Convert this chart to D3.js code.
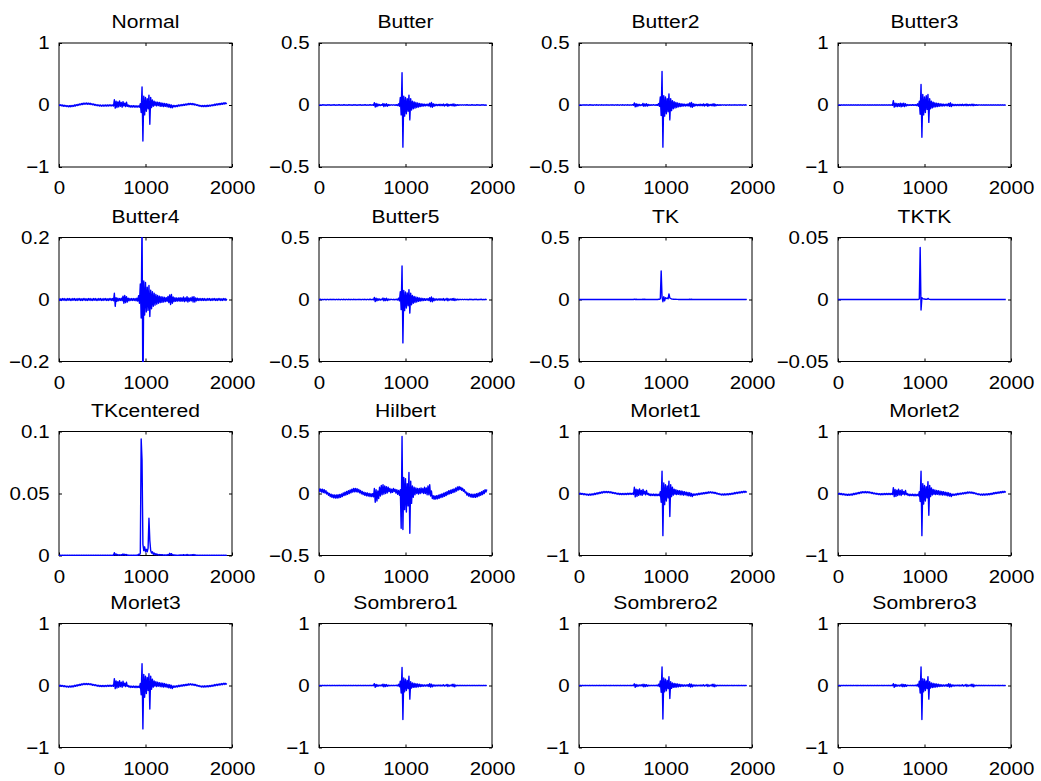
<!DOCTYPE html>
<html><head><meta charset="utf-8">
<script src="https://cdn.jsdelivr.net/npm/d3@7"></script>
<style>body{margin:0;background:#fff}svg{display:block}</style>
</head><body>
<svg id="c" width="1041" height="781"></svg>
<script>
// ---------- data ----------
const titles = ["Normal","Butter","Butter2","Butter3","Butter4","Butter5","TK","TKTK",
  "TKcentered","Hilbert","Morlet1","Morlet2","Morlet3","Sombrero1","Sombrero2","Sombrero3"];
const xTickValues = [0, 1000, 2000];
const yTickSets = [
  [-1,0,1],[-0.5,0,0.5],[-0.5,0,0.5],[-1,0,1],
  [-0.2,0,0.2],[-0.5,0,0.5],[-0.5,0,0.5],[-0.05,0,0.05],
  [0,0.05,0.1],[-0.5,0,0.5],[-1,0,1],[-1,0,1],
  [-1,0,1],[-1,0,1],[-1,0,1],[-1,0,1]];
const sampleStep = 10; // samples are read every 10 x-units, starting at 0

const normalSig = [
0.008,-0.01,0.004,-0.014,0.0,-0.02,-0.003,-0.022,-0.007,-0.026,
-0.011,-0.029,-0.01,-0.028,-0.008,-0.026,-0.006,-0.022,0.002,-0.016,
0.006,-0.01,0.012,-0.004,0.018,0.002,0.024,0.008,0.03,0.012,
0.031,0.013,0.032,0.012,0.03,0.012,0.028,0.008,0.022,0.002,
0.016,-0.003,0.01,-0.008,0.005,-0.013,0.002,-0.017,-0.001,-0.019,
-0.001,-0.019,0.0,-0.018,0.001,-0.017,0.002,-0.016,0.003,-0.015,
0.003,-0.015,0.002,-0.016,0.085,-0.05,0.06,-0.04,0.05,-0.03,
0.065,-0.02,0.04,-0.035,0.055,-0.015,0.03,-0.025,0.045,-0.02,
0.0,-0.03,-0.008,-0.034,-0.012,-0.032,-0.01,-0.034,-0.012,-0.036,
-0.012,-0.034,-0.014,-0.036,0.02,-0.12,0.29,-0.58,0.14,-0.16,
0.12,-0.1,0.1,-0.06,0.16,-0.31,0.12,-0.04,0.08,-0.02,
0.06,-0.01,0.05,-0.015,0.045,-0.01,0.04,-0.02,0.035,-0.02,
0.03,-0.025,0.025,-0.02,0.02,-0.03,0.015,-0.035,0.01,-0.04,
0.0,-0.045,-0.008,-0.03,-0.008,-0.028,-0.006,-0.024,0.002,-0.018,
0.004,-0.014,0.008,-0.01,0.012,-0.006,0.016,-0.002,0.02,0.002,
0.026,0.008,0.026,0.008,0.024,0.004,0.02,0.0,0.014,-0.006,
0.004,-0.014,-0.002,-0.02,-0.008,-0.026,-0.008,-0.026,-0.006,-0.026,
-0.006,-0.024,-0.004,-0.022,-0.002,-0.018,0.002,-0.014,0.006,-0.01,
0.014,-0.004,0.018,0.0,0.022,0.004,0.026,0.008,0.03,0.012,
0.034,0.016,0.036,0.02,0.03];

const butterSig = [
0.002,-0.002,0.001,-0.002,0.002,-0.001,0.002,-0.002,0.001,-0.002,
0.002,-0.001,0.002,-0.002,0.001,-0.002,0.002,-0.001,0.002,-0.002,
0.001,-0.002,0.002,-0.001,0.002,-0.002,0.001,-0.002,0.002,-0.001,
0.002,-0.002,0.001,-0.002,0.002,-0.001,0.002,-0.002,0.001,-0.002,
0.002,-0.001,0.002,-0.002,0.001,-0.002,0.002,-0.001,0.002,-0.002,
0.001,-0.002,0.002,-0.001,0.002,-0.002,0.001,-0.002,0.002,-0.001,
0.002,-0.002,0.002,-0.003,0.018,-0.016,0.012,-0.012,0.008,-0.006,
0.004,-0.004,0.003,-0.003,0.012,-0.012,0.008,-0.008,0.01,-0.01,
0.004,-0.004,0.002,-0.002,0.002,-0.002,0.002,-0.002,0.002,-0.003,
0.003,-0.004,0.01,-0.01,0.06,-0.08,0.26,-0.34,0.07,-0.09,
0.06,-0.07,0.05,-0.05,0.08,-0.12,0.05,-0.04,0.03,-0.03,
0.025,-0.025,0.02,-0.02,0.016,-0.016,0.012,-0.012,0.01,-0.01,
0.008,-0.008,0.007,-0.007,0.006,-0.006,0.008,-0.008,0.015,-0.015,
0.02,-0.018,0.01,-0.01,0.006,-0.006,0.005,-0.005,0.004,-0.004,
0.006,-0.006,0.005,-0.005,0.008,-0.008,0.004,-0.004,0.01,-0.01,
0.005,-0.005,0.004,-0.004,0.007,-0.007,0.009,-0.009,0.004,-0.004,
0.003,-0.003,0.002,-0.002,0.002,-0.002,0.002,-0.002,0.002,-0.002,
0.002,-0.001,0.002,-0.002,0.001,-0.002,0.002,-0.001,0.002,-0.002,
0.001,-0.002,0.002,-0.001,0.002,-0.002,0.001,-0.002,0.002,-0.001,
0.002,-0.002,0.001,-0.002,0.001];

const butter2Sig = [
0.001,-0.002,0.002,-0.002,0.001,-0.001,0.002,-0.002,0.002,-0.001,
0.001,-0.002,0.002,-0.001,0.002,-0.002,0.001,-0.002,0.002,-0.002,
0.002,-0.001,0.001,-0.002,0.002,-0.002,0.002,-0.001,0.001,-0.002,
0.002,-0.002,0.002,-0.001,0.001,-0.002,0.002,-0.002,0.002,-0.001,
0.001,-0.002,0.002,-0.002,0.002,-0.001,0.001,-0.002,0.002,-0.002,
0.002,-0.001,0.001,-0.002,0.002,-0.002,0.002,-0.001,0.001,-0.002,
0.002,-0.002,0.003,-0.002,0.017,-0.015,0.011,-0.012,0.007,-0.007,
0.005,-0.004,0.003,-0.004,0.013,-0.011,0.009,-0.008,0.011,-0.009,
0.005,-0.004,0.002,-0.003,0.002,-0.002,0.003,-0.002,0.002,-0.003,
0.003,-0.003,0.012,-0.01,0.065,-0.085,0.27,-0.34,0.075,-0.09,
0.065,-0.07,0.05,-0.055,0.09,-0.12,0.05,-0.045,0.035,-0.03,
0.026,-0.024,0.021,-0.02,0.017,-0.015,0.013,-0.012,0.011,-0.01,
0.009,-0.008,0.007,-0.008,0.006,-0.007,0.009,-0.008,0.016,-0.015,
0.021,-0.019,0.011,-0.01,0.007,-0.006,0.005,-0.006,0.004,-0.005,
0.007,-0.006,0.005,-0.006,0.009,-0.008,0.005,-0.004,0.011,-0.01,
0.006,-0.005,0.004,-0.005,0.008,-0.007,0.01,-0.009,0.005,-0.004,
0.003,-0.003,0.002,-0.003,0.002,-0.002,0.002,-0.002,0.002,-0.002,
0.001,-0.002,0.002,-0.002,0.002,-0.001,0.001,-0.002,0.002,-0.002,
0.002,-0.001,0.001,-0.002,0.002,-0.002,0.002,-0.001,0.001,-0.002,
0.002,-0.002,0.002,-0.001,0.001];

const butter3Sig = [
0.003,-0.004,0.004,-0.003,0.003,-0.004,0.004,-0.003,0.003,-0.004,
0.004,-0.003,0.003,-0.004,0.004,-0.003,0.003,-0.004,0.004,-0.003,
0.003,-0.004,0.004,-0.003,0.003,-0.004,0.004,-0.003,0.003,-0.004,
0.004,-0.003,0.003,-0.004,0.004,-0.003,0.003,-0.004,0.004,-0.003,
0.003,-0.004,0.004,-0.003,0.003,-0.004,0.004,-0.003,0.003,-0.004,
0.004,-0.003,0.003,-0.004,0.004,-0.003,0.003,-0.004,0.004,-0.003,
0.004,-0.003,0.004,-0.005,0.07,-0.035,0.03,-0.025,0.025,-0.025,
0.02,-0.02,0.03,-0.03,0.025,-0.02,0.03,-0.025,0.02,-0.015,
0.008,-0.008,0.006,-0.006,0.005,-0.006,0.006,-0.005,0.005,-0.006,
0.006,-0.008,0.02,-0.02,0.06,-0.15,0.33,-0.52,0.17,-0.16,
0.13,-0.12,0.15,-0.07,0.17,-0.28,0.1,-0.06,0.06,-0.045,
0.045,-0.035,0.035,-0.03,0.03,-0.025,0.025,-0.02,0.02,-0.018,
0.016,-0.015,0.014,-0.013,0.012,-0.012,0.015,-0.014,0.025,-0.02,
0.035,-0.025,0.015,-0.012,0.01,-0.01,0.008,-0.008,0.007,-0.007,
0.01,-0.009,0.008,-0.008,0.012,-0.01,0.007,-0.007,0.014,-0.012,
0.008,-0.007,0.007,-0.007,0.011,-0.01,0.013,-0.011,0.007,-0.006,
0.005,-0.005,0.004,-0.004,0.004,-0.004,0.003,-0.004,0.004,-0.003,
0.003,-0.004,0.004,-0.003,0.003,-0.004,0.004,-0.003,0.003,-0.004,
0.004,-0.003,0.003,-0.004,0.004,-0.003,0.003,-0.004,0.004,-0.003,
0.003,-0.004,0.004,-0.003,0.003];

const butter4Sig = [
0.003,-0.003,0.002,-0.003,0.003,-0.002,0.003,-0.003,0.002,-0.003,
0.003,-0.002,0.003,-0.003,0.002,-0.003,0.003,-0.002,0.003,-0.003,
0.002,-0.003,0.003,-0.002,0.003,-0.003,0.002,-0.003,0.003,-0.002,
0.003,-0.003,0.002,-0.003,0.003,-0.002,0.003,-0.003,0.002,-0.003,
0.003,-0.002,0.003,-0.003,0.002,-0.003,0.003,-0.002,0.003,-0.003,
0.002,-0.003,0.003,-0.002,0.003,-0.003,0.002,-0.003,0.003,-0.002,
0.003,-0.003,0.003,-0.004,0.02,-0.022,0.006,-0.006,0.004,-0.004,
0.003,-0.003,0.004,-0.004,0.011,-0.012,0.013,-0.01,0.009,-0.008,
0.004,-0.004,0.003,-0.003,0.003,-0.003,0.003,-0.003,0.003,-0.004,
0.004,-0.005,0.012,-0.012,0.05,-0.06,0.26,-0.34,0.06,-0.05,
0.055,-0.04,0.04,-0.035,0.045,-0.055,0.03,-0.03,0.025,-0.022,
0.02,-0.018,0.016,-0.015,0.013,-0.012,0.011,-0.01,0.009,-0.009,
0.008,-0.008,0.007,-0.007,0.006,-0.006,0.01,-0.01,0.015,-0.016,
0.016,-0.012,0.008,-0.007,0.006,-0.006,0.005,-0.005,0.005,-0.005,
0.006,-0.006,0.005,-0.005,0.008,-0.007,0.005,-0.005,0.009,-0.008,
0.005,-0.005,0.005,-0.004,0.008,-0.008,0.009,-0.008,0.005,-0.004,
0.004,-0.003,0.003,-0.003,0.003,-0.003,0.003,-0.003,0.003,-0.003,
0.002,-0.003,0.003,-0.002,0.003,-0.003,0.002,-0.003,0.003,-0.002,
0.003,-0.003,0.002,-0.003,0.003,-0.002,0.003,-0.003,0.002,-0.003,
0.003,-0.002,0.003,-0.003,0.002];

const butter5Sig = [
0.002,-0.001,0.002,-0.002,0.001,-0.002,0.002,-0.002,0.001,-0.002,
0.002,-0.002,0.001,-0.001,0.002,-0.002,0.002,-0.001,0.001,-0.002,
0.002,-0.002,0.002,-0.001,0.001,-0.002,0.002,-0.002,0.002,-0.001,
0.001,-0.002,0.002,-0.002,0.002,-0.001,0.001,-0.002,0.002,-0.002,
0.002,-0.001,0.001,-0.002,0.002,-0.002,0.002,-0.001,0.001,-0.002,
0.002,-0.002,0.002,-0.001,0.001,-0.002,0.002,-0.002,0.002,-0.001,
0.002,-0.002,0.002,-0.003,0.016,-0.017,0.011,-0.011,0.007,-0.006,
0.004,-0.005,0.003,-0.003,0.012,-0.011,0.008,-0.009,0.01,-0.009,
0.004,-0.004,0.003,-0.002,0.002,-0.002,0.002,-0.003,0.002,-0.002,
0.003,-0.004,0.011,-0.011,0.062,-0.082,0.27,-0.35,0.072,-0.09,
0.06,-0.068,0.052,-0.05,0.08,-0.11,0.05,-0.042,0.032,-0.03,
0.025,-0.024,0.02,-0.02,0.016,-0.015,0.012,-0.012,0.01,-0.01,
0.008,-0.008,0.007,-0.007,0.006,-0.006,0.008,-0.008,0.015,-0.016,
0.02,-0.018,0.01,-0.01,0.006,-0.006,0.005,-0.005,0.004,-0.004,
0.006,-0.006,0.005,-0.005,0.008,-0.008,0.004,-0.004,0.01,-0.01,
0.005,-0.005,0.004,-0.004,0.007,-0.007,0.009,-0.009,0.004,-0.004,
0.003,-0.003,0.002,-0.002,0.002,-0.002,0.002,-0.002,0.002,-0.002,
0.002,-0.002,0.001,-0.002,0.002,-0.001,0.002,-0.002,0.001,-0.002,
0.002,-0.001,0.002,-0.002,0.001,-0.002,0.002,-0.001,0.002,-0.002,
0.001,-0.002,0.002,-0.001,0.001];

const tkSig = [
0.001,0.0,0.001,0.0,0.001,0.0,0.001,0.0,0.001,0.0,
0.001,0.0,0.001,0.0,0.001,0.0,0.001,0.0,0.001,0.0,
0.001,0.0,0.001,0.0,0.001,0.0,0.001,0.0,0.001,0.0,
0.001,0.0,0.001,0.0,0.001,0.0,0.001,0.0,0.001,0.0,
0.001,0.0,0.001,0.0,0.001,0.0,0.001,0.0,0.001,0.0,
0.001,0.0,0.001,0.0,0.001,0.0,0.001,0.0,0.001,0.0,
0.001,0.0,0.001,0.0,0.003,0.0,0.002,0.0,0.001,0.0,
0.001,0.0,0.001,0.0,0.002,0.0,0.002,0.0,0.001,0.0,
0.001,0.0,0.001,0.0,0.001,0.0,0.001,0.0,0.001,0.0,
0.001,0.0,0.002,0.001,0.006,0.23,0.02,-0.018,0.022,-0.01,
0.015,0.008,0.012,0.006,0.045,0.012,0.008,0.004,0.003,0.002,
0.002,0.001,0.002,0.001,0.001,0.0,0.001,0.0,0.001,0.0,
0.001,0.0,0.001,0.0,0.001,0.0,0.001,0.0,0.002,0.0,
0.002,0.0,0.001,0.0,0.001,0.0,0.001,0.0,0.001,0.0,
0.001,0.0,0.001,0.0,0.001,0.0,0.001,0.0,0.001,0.0,
0.001,0.0,0.001,0.0,0.001,0.0,0.001,0.0,0.001,0.0,
0.001,0.0,0.001,0.0,0.001,0.0,0.001,0.0,0.001,0.0,
0.001,0.0,0.001,0.0,0.001,0.0,0.001,0.0,0.001,0.0,
0.001,0.0,0.001,0.0,0.001,0.0,0.001,0.0,0.001,0.0,
0.001,0.0,0.001,0.0,0.001];

const tktkSig = [
0.0,0.0,0.0,0.0,0.0,0.0,0.0,0.0,0.0,0.0,
0.0,0.0,0.0,0.0,0.0,0.0,0.0,0.0,0.0,0.0,
0.0,0.0,0.0,0.0,0.0,0.0,0.0,0.0,0.0,0.0,
0.0,0.0,0.0,0.0,0.0,0.0,0.0,0.0,0.0,0.0,
0.0,0.0,0.0,0.0,0.0,0.0,0.0,0.0,0.0,0.0,
0.0,0.0,0.0,0.0,0.0,0.0,0.0,0.0,0.0,0.0,
0.0,0.0,0.0,0.0,0.0001,0.0,0.0,0.0,0.0,0.0,
0.0,0.0,0.0,0.0,0.0,0.0,0.0,0.0,0.0,0.0,
0.0,0.0,0.0,0.0,0.0,0.0,0.0,0.0,0.0,0.0,
0.0,0.0,0.0,0.0,0.0004,0.042,-0.0085,0.0015,0.0008,0.0004,
0.0004,0.0002,0.0003,0.0001,0.0009,0.0003,0.0001,0.0,0.0,0.0,
0.0,0.0,0.0,0.0,0.0,0.0,0.0,0.0,0.0,0.0,
0.0,0.0,0.0,0.0,0.0,0.0,0.0,0.0,0.0,0.0,
0.0,0.0,0.0,0.0,0.0,0.0,0.0,0.0,0.0,0.0,
0.0,0.0,0.0,0.0,0.0,0.0,0.0,0.0,0.0,0.0,
0.0,0.0,0.0,0.0,0.0,0.0,0.0,0.0,0.0,0.0,
0.0,0.0,0.0,0.0,0.0,0.0,0.0,0.0,0.0,0.0,
0.0,0.0,0.0,0.0,0.0,0.0,0.0,0.0,0.0,0.0,
0.0,0.0,0.0,0.0,0.0,0.0,0.0,0.0,0.0,0.0,
0.0,0.0,0.0,0.0,0.0];

const tkCenteredSig = [
0.0002,0.0,0.0002,0.0,0.0002,0.0,0.0002,0.0,0.0002,0.0,
0.0002,0.0,0.0002,0.0,0.0002,0.0,0.0002,0.0,0.0002,0.0,
0.0002,0.0,0.0002,0.0,0.0002,0.0,0.0002,0.0,0.0002,0.0,
0.0002,0.0,0.0002,0.0,0.0002,0.0,0.0002,0.0,0.0002,0.0,
0.0002,0.0,0.0002,0.0,0.0002,0.0,0.0002,0.0,0.0002,0.0,
0.0002,0.0,0.0002,0.0,0.0002,0.0,0.0002,0.0,0.0002,0.0,
0.0002,0.0,0.0002,0.0,0.0022,0.0004,0.0012,0.0003,0.0008,0.0002,
0.0006,0.0002,0.0007,0.0002,0.0012,0.0003,0.001,0.0002,0.0008,0.0002,
0.0004,0.0,0.0003,0.0,0.0003,0.0,0.0003,0.0,0.0003,0.0,
0.0004,0.0001,0.001,0.0003,0.002,0.094,0.077,0.009,0.004,0.007,
0.003,0.005,0.003,0.006,0.03,0.012,0.004,0.002,0.003,0.001,
0.002,0.0006,0.0015,0.0005,0.001,0.0004,0.0008,0.0003,0.0007,0.0003,
0.0006,0.0002,0.0005,0.0002,0.0005,0.0002,0.0008,0.0003,0.0018,0.0004,
0.0015,0.0003,0.0006,0.0002,0.0004,0.0001,0.0003,0.0001,0.0003,0.0001,
0.0005,0.0001,0.0004,0.0001,0.0007,0.0002,0.0004,0.0001,0.0009,0.0002,
0.0005,0.0001,0.0004,0.0001,0.0007,0.0002,0.0008,0.0002,0.0004,0.0001,
0.0002,0.0,0.0002,0.0,0.0002,0.0,0.0002,0.0,0.0002,0.0,
0.0002,0.0,0.0002,0.0,0.0002,0.0,0.0002,0.0,0.0002,0.0,
0.0002,0.0,0.0002,0.0,0.0002,0.0,0.0002,0.0,0.0002,0.0,
0.0002,0.0,0.0002,0.0,0.0002];

const hilbertSig = [
0.04,0.016,0.036,0.012,0.034,0.008,0.03,0.004,0.022,-0.004,
0.01,-0.014,0.0,-0.024,-0.006,-0.03,-0.01,-0.034,-0.012,-0.036,
-0.012,-0.036,-0.01,-0.034,-0.008,-0.03,-0.004,-0.024,0.004,-0.016,
0.01,-0.012,0.016,-0.006,0.022,0.0,0.028,0.006,0.034,0.012,
0.04,0.014,0.04,0.014,0.038,0.012,0.032,0.006,0.024,-0.002,
0.016,-0.008,0.01,-0.014,0.006,-0.018,0.004,-0.02,0.0,-0.024,
-0.002,-0.024,-0.002,-0.026,0.04,-0.07,0.03,-0.06,0.02,-0.04,
0.05,-0.02,0.065,-0.01,0.07,-0.005,0.06,0.0,0.055,0.005,
0.05,0.016,0.04,0.006,0.034,0.01,0.04,0.016,0.034,0.004,
0.03,-0.006,0.024,-0.014,0.03,-0.28,0.46,-0.29,0.13,-0.13,
0.12,-0.15,0.08,-0.1,0.17,-0.32,0.1,-0.08,0.06,-0.03,
0.05,-0.01,0.045,0.0,0.04,-0.005,0.04,0.0,0.045,0.005,
0.04,0.0,0.05,0.0,0.045,-0.01,0.06,-0.01,0.07,-0.02,
0.02,-0.04,-0.018,-0.046,-0.02,-0.044,-0.018,-0.042,-0.014,-0.038,
-0.008,-0.032,-0.004,-0.028,0.002,-0.022,0.008,-0.016,0.014,-0.008,
0.022,-0.002,0.026,0.002,0.032,0.008,0.036,0.012,0.044,0.02,
0.052,0.028,0.056,0.032,0.05,0.026,0.042,0.018,0.03,0.006,
0.012,-0.012,0.004,-0.02,-0.002,-0.026,-0.006,-0.03,-0.006,-0.03,
-0.006,-0.03,-0.002,-0.026,0.002,-0.02,0.008,-0.014,0.014,-0.008,
0.022,0.0,0.03,0.012,0.032];

const morlet1Sig = [
0.009,-0.009,0.005,-0.013,0.001,-0.019,-0.002,-0.021,-0.006,-0.025,
-0.01,-0.028,-0.009,-0.027,-0.007,-0.025,-0.005,-0.021,0.003,-0.015,
0.007,-0.009,0.013,-0.003,0.019,0.003,0.025,0.009,0.031,0.013,
0.032,0.014,0.033,0.013,0.031,0.013,0.029,0.009,0.023,0.003,
0.017,-0.002,0.011,-0.007,0.006,-0.012,0.003,-0.016,0.0,-0.018,
0.0,-0.018,0.001,-0.017,0.002,-0.016,0.003,-0.015,0.004,-0.014,
0.004,-0.014,0.003,-0.015,0.1,-0.055,0.07,-0.045,0.06,-0.03,
0.075,-0.02,0.05,-0.03,0.065,-0.01,0.035,-0.02,0.05,-0.015,
0.002,-0.029,-0.007,-0.033,-0.011,-0.031,-0.009,-0.033,-0.011,-0.035,
-0.011,-0.033,-0.013,-0.035,0.03,-0.14,0.36,-0.68,0.17,-0.18,
0.14,-0.12,0.12,-0.07,0.2,-0.37,0.14,-0.05,0.1,-0.025,
0.07,-0.012,0.06,-0.018,0.05,-0.012,0.045,-0.02,0.04,-0.022,
0.035,-0.027,0.03,-0.022,0.022,-0.032,0.017,-0.038,0.012,-0.042,
0.002,-0.05,-0.007,-0.029,-0.007,-0.027,-0.005,-0.023,0.003,-0.017,
0.005,-0.013,0.009,-0.009,0.013,-0.005,0.017,-0.001,0.021,0.003,
0.027,0.009,0.027,0.009,0.025,0.005,0.021,0.001,0.015,-0.005,
0.005,-0.013,-0.001,-0.019,-0.007,-0.025,-0.007,-0.025,-0.005,-0.025,
-0.005,-0.023,-0.003,-0.021,-0.001,-0.017,0.003,-0.013,0.007,-0.009,
0.015,-0.003,0.019,0.001,0.023,0.005,0.027,0.009,0.031,0.013,
0.035,0.017,0.037,0.021,0.032];

const morlet2Sig = [
0.007,-0.011,0.003,-0.015,-0.001,-0.021,-0.004,-0.023,-0.008,-0.027,
-0.012,-0.03,-0.011,-0.029,-0.009,-0.027,-0.007,-0.023,0.001,-0.017,
0.005,-0.011,0.011,-0.005,0.017,0.001,0.023,0.007,0.029,0.011,
0.03,0.012,0.031,0.011,0.029,0.011,0.027,0.007,0.021,0.001,
0.015,-0.004,0.009,-0.009,0.004,-0.014,0.001,-0.018,-0.002,-0.02,
-0.002,-0.02,-0.001,-0.019,0.0,-0.018,0.001,-0.017,0.002,-0.016,
0.002,-0.016,0.001,-0.017,0.095,-0.05,0.065,-0.045,0.055,-0.032,
0.07,-0.022,0.048,-0.032,0.06,-0.012,0.033,-0.022,0.048,-0.016,
-0.001,-0.031,-0.009,-0.035,-0.013,-0.033,-0.011,-0.035,-0.013,-0.037,
-0.013,-0.035,-0.015,-0.037,0.028,-0.13,0.36,-0.68,0.16,-0.17,
0.13,-0.12,0.11,-0.07,0.19,-0.35,0.13,-0.05,0.09,-0.024,
0.065,-0.013,0.058,-0.017,0.048,-0.013,0.044,-0.021,0.039,-0.021,
0.034,-0.026,0.029,-0.023,0.021,-0.031,0.016,-0.037,0.011,-0.041,
0.001,-0.048,-0.009,-0.031,-0.009,-0.029,-0.007,-0.025,0.001,-0.019,
0.003,-0.015,0.007,-0.011,0.011,-0.007,0.015,-0.003,0.019,0.001,
0.025,0.007,0.025,0.007,0.023,0.003,0.019,-0.001,0.013,-0.007,
0.003,-0.015,-0.003,-0.021,-0.009,-0.027,-0.009,-0.027,-0.007,-0.027,
-0.007,-0.025,-0.005,-0.023,-0.003,-0.019,0.001,-0.015,0.005,-0.011,
0.013,-0.005,0.017,-0.001,0.021,0.003,0.025,0.007,0.029,0.011,
0.033,0.015,0.035,0.019,0.031];

const morlet3Sig = [
0.009,-0.008,0.005,-0.012,0.001,-0.018,-0.002,-0.02,-0.006,-0.024,
-0.01,-0.027,-0.009,-0.026,-0.007,-0.024,-0.005,-0.02,0.003,-0.014,
0.007,-0.008,0.013,-0.002,0.019,0.004,0.025,0.01,0.031,0.014,
0.032,0.015,0.033,0.014,0.031,0.014,0.029,0.01,0.023,0.004,
0.017,-0.001,0.011,-0.006,0.006,-0.011,0.003,-0.015,0.0,-0.017,
0.0,-0.017,0.001,-0.016,0.002,-0.015,0.003,-0.014,0.004,-0.013,
0.004,-0.013,0.003,-0.014,0.11,-0.05,0.075,-0.04,0.062,-0.028,
0.078,-0.018,0.052,-0.028,0.068,-0.008,0.037,-0.018,0.052,-0.013,
0.001,-0.028,-0.007,-0.032,-0.011,-0.03,-0.009,-0.032,-0.011,-0.034,
-0.011,-0.032,-0.013,-0.034,0.032,-0.15,0.35,-0.7,0.18,-0.19,
0.15,-0.13,0.13,-0.08,0.19,-0.38,0.15,-0.06,0.1,-0.026,
0.072,-0.011,0.062,-0.017,0.052,-0.011,0.046,-0.019,0.041,-0.021,
0.036,-0.026,0.031,-0.021,0.023,-0.031,0.018,-0.037,0.013,-0.041,
0.003,-0.049,-0.007,-0.029,-0.007,-0.027,-0.005,-0.023,0.003,-0.017,
0.005,-0.013,0.009,-0.009,0.013,-0.005,0.017,-0.001,0.021,0.003,
0.027,0.009,0.027,0.009,0.025,0.005,0.021,0.001,0.015,-0.005,
0.005,-0.013,-0.001,-0.019,-0.007,-0.025,-0.007,-0.025,-0.005,-0.025,
-0.005,-0.023,-0.003,-0.021,-0.001,-0.017,0.003,-0.013,0.007,-0.009,
0.015,-0.003,0.019,0.001,0.023,0.005,0.027,0.009,0.031,0.013,
0.035,0.017,0.037,0.021,0.033];

const sombrero1Sig = [
0.003,-0.003,0.002,-0.003,0.003,-0.002,0.003,-0.003,0.002,-0.003,
0.003,-0.002,0.003,-0.003,0.002,-0.003,0.003,-0.002,0.003,-0.003,
0.002,-0.003,0.003,-0.002,0.003,-0.003,0.002,-0.003,0.003,-0.002,
0.003,-0.003,0.002,-0.003,0.003,-0.002,0.003,-0.003,0.002,-0.003,
0.003,-0.002,0.003,-0.003,0.002,-0.003,0.003,-0.002,0.003,-0.003,
0.002,-0.003,0.003,-0.002,0.003,-0.003,0.002,-0.003,0.003,-0.002,
0.003,-0.003,0.003,-0.004,0.03,-0.028,0.018,-0.015,0.01,-0.008,
0.006,-0.006,0.01,-0.01,0.022,-0.02,0.018,-0.016,0.015,-0.012,
0.005,-0.005,0.004,-0.004,0.003,-0.003,0.003,-0.004,0.004,-0.004,
0.005,-0.006,0.02,-0.02,0.07,-0.12,0.29,-0.55,0.12,-0.1,
0.1,-0.08,0.08,-0.05,0.15,-0.22,0.06,-0.04,0.04,-0.03,
0.035,-0.03,0.03,-0.025,0.025,-0.02,0.02,-0.018,0.015,-0.014,
0.012,-0.012,0.01,-0.01,0.01,-0.01,0.015,-0.015,0.028,-0.026,
0.022,-0.02,0.01,-0.01,0.008,-0.008,0.006,-0.006,0.006,-0.006,
0.008,-0.008,0.006,-0.006,0.012,-0.01,0.006,-0.006,0.018,-0.016,
0.01,-0.008,0.006,-0.006,0.02,-0.018,0.022,-0.02,0.008,-0.006,
0.004,-0.004,0.003,-0.003,0.003,-0.003,0.003,-0.003,0.003,-0.003,
0.002,-0.003,0.003,-0.002,0.003,-0.003,0.002,-0.003,0.003,-0.002,
0.003,-0.003,0.002,-0.003,0.003,-0.002,0.003,-0.003,0.002,-0.003,
0.003,-0.002,0.003,-0.003,0.002];

const sombrero2Sig = [
0.002,-0.003,0.003,-0.002,0.003,-0.003,0.002,-0.003,0.003,-0.002,
0.002,-0.003,0.003,-0.003,0.002,-0.002,0.003,-0.003,0.002,-0.003,
0.003,-0.002,0.002,-0.003,0.003,-0.003,0.002,-0.002,0.003,-0.003,
0.002,-0.003,0.003,-0.002,0.002,-0.003,0.003,-0.003,0.002,-0.002,
0.003,-0.003,0.002,-0.003,0.003,-0.002,0.002,-0.003,0.003,-0.003,
0.002,-0.002,0.003,-0.003,0.002,-0.003,0.003,-0.002,0.002,-0.003,
0.003,-0.003,0.003,-0.003,0.028,-0.03,0.017,-0.016,0.01,-0.009,
0.007,-0.006,0.011,-0.01,0.021,-0.021,0.017,-0.017,0.014,-0.012,
0.005,-0.005,0.004,-0.003,0.003,-0.004,0.003,-0.003,0.004,-0.004,
0.005,-0.006,0.021,-0.019,0.072,-0.11,0.3,-0.54,0.12,-0.1,
0.1,-0.085,0.08,-0.05,0.14,-0.21,0.06,-0.045,0.04,-0.03,
0.034,-0.03,0.028,-0.025,0.024,-0.02,0.019,-0.018,0.015,-0.013,
0.012,-0.011,0.01,-0.01,0.01,-0.009,0.014,-0.015,0.027,-0.025,
0.021,-0.02,0.01,-0.009,0.008,-0.007,0.006,-0.006,0.005,-0.006,
0.008,-0.007,0.006,-0.006,0.011,-0.01,0.006,-0.005,0.017,-0.016,
0.01,-0.009,0.006,-0.005,0.019,-0.018,0.021,-0.02,0.008,-0.007,
0.004,-0.004,0.003,-0.003,0.003,-0.003,0.003,-0.003,0.003,-0.003,
0.002,-0.003,0.003,-0.003,0.002,-0.002,0.003,-0.003,0.002,-0.003,
0.003,-0.002,0.002,-0.003,0.003,-0.003,0.002,-0.002,0.003,-0.003,
0.002,-0.003,0.003,-0.002,0.002];

const sombrero3Sig = [
0.003,-0.002,0.003,-0.003,0.002,-0.003,0.003,-0.002,0.002,-0.003,
0.003,-0.003,0.002,-0.002,0.003,-0.003,0.002,-0.003,0.003,-0.002,
0.002,-0.003,0.003,-0.003,0.002,-0.002,0.003,-0.003,0.002,-0.003,
0.003,-0.002,0.002,-0.003,0.003,-0.003,0.002,-0.002,0.003,-0.003,
0.002,-0.003,0.003,-0.002,0.002,-0.003,0.003,-0.003,0.002,-0.002,
0.003,-0.003,0.002,-0.003,0.003,-0.002,0.002,-0.003,0.003,-0.003,
0.002,-0.003,0.003,-0.004,0.029,-0.029,0.018,-0.015,0.011,-0.008,
0.006,-0.007,0.01,-0.011,0.022,-0.019,0.018,-0.017,0.014,-0.013,
0.005,-0.004,0.004,-0.004,0.003,-0.003,0.004,-0.003,0.004,-0.004,
0.006,-0.006,0.02,-0.021,0.07,-0.12,0.3,-0.55,0.11,-0.1,
0.1,-0.08,0.075,-0.05,0.14,-0.22,0.06,-0.04,0.04,-0.032,
0.035,-0.029,0.029,-0.025,0.024,-0.021,0.02,-0.017,0.015,-0.014,
0.012,-0.012,0.01,-0.01,0.01,-0.01,0.015,-0.014,0.028,-0.025,
0.022,-0.019,0.01,-0.01,0.008,-0.008,0.006,-0.005,0.006,-0.006,
0.008,-0.008,0.006,-0.006,0.012,-0.01,0.006,-0.006,0.017,-0.016,
0.01,-0.008,0.006,-0.006,0.02,-0.017,0.022,-0.02,0.008,-0.006,
0.004,-0.004,0.003,-0.003,0.003,-0.003,0.003,-0.003,0.003,-0.003,
0.003,-0.002,0.002,-0.003,0.003,-0.003,0.002,-0.002,0.003,-0.003,
0.002,-0.003,0.003,-0.002,0.002,-0.003,0.003,-0.003,0.002,-0.002,
0.003,-0.003,0.002,-0.003,0.003];

const seriesList = [normalSig, butterSig, butter2Sig, butter3Sig, butter4Sig, butter5Sig,
  tkSig, tktkSig, tkCenteredSig, hilbertSig, morlet1Sig, morlet2Sig, morlet3Sig,
  sombrero1Sig, sombrero2Sig, sombrero3Sig];

// ---------- layout ----------
const colLeft = [59, 319, 579, 838];
const rowTop = [43, 237.5, 431.5, 623.5];
const W = 173, H = 124;
const FONT = "'Liberation Sans', Arial, Helvetica, sans-serif";
const FS = 18, SX = 1.14;
const fmt = d => (d < 0 ? "\u2212" : "") + String(Math.abs(d));

const svg = d3.select("#c");
svg.append("rect").attr("width", 1041).attr("height", 781).attr("fill", "#fff");

seriesList.forEach((vals, k) => {
  const r = Math.floor(k / 4), c = k % 4;
  const g = svg.append("g").attr("transform", `translate(${colLeft[c]},${rowTop[r]})`);
  const yt = yTickSets[k];
  const x = d3.scaleLinear().domain([xTickValues[0], xTickValues[xTickValues.length - 1]]).range([0, W]);
  const y = d3.scaleLinear().domain([yt[0], yt[yt.length - 1]]).range([H, 0]);

  const clipId = "clip" + k;
  g.append("clipPath").attr("id", clipId).append("rect")
    .attr("x", 0).attr("y", -0.5).attr("width", W).attr("height", H + 1);

  const styleAxis = sel => {
    sel.select(".domain").remove();
    sel.selectAll("line").attr("stroke", "#000").attr("stroke-width", 1);
  };
  const bottom = g.append("g").attr("transform", `translate(0,${H})`)
    .call(d3.axisBottom(x).tickValues(xTickValues).tickSizeInner(-3).tickSizeOuter(0).tickPadding(14.3).tickFormat(fmt));
  styleAxis(bottom);
  const top = g.append("g")
    .call(d3.axisTop(x).tickValues(xTickValues).tickSizeInner(-3).tickSizeOuter(0).tickFormat(""));
  styleAxis(top);
  const left = g.append("g")
    .call(d3.axisLeft(y).tickValues(yt).tickSizeInner(-3).tickSizeOuter(0).tickPadding(8.3).tickFormat(fmt));
  styleAxis(left);
  const right = g.append("g").attr("transform", `translate(${W},0)`)
    .call(d3.axisRight(y).tickValues(yt).tickSizeInner(-3).tickSizeOuter(0).tickFormat(""));
  styleAxis(right);

  g.selectAll("text").attr("font-family", FONT).attr("font-size", FS).attr("fill", "#000");
  bottom.selectAll("text").attr("transform", `scale(${SX},1)`);
  left.selectAll("text").attr("transform", `scale(${SX},1)`);

  g.append("rect").attr("width", W).attr("height", H)
    .attr("fill", "none").attr("stroke", "#000").attr("stroke-width", 1);

  const line = d3.line().x((d, i) => x(i * sampleStep)).y(d => y(d));
  g.append("path").datum(vals)
    .attr("clip-path", `url(#${clipId})`)
    .attr("d", line).attr("fill", "none").attr("stroke", "#0000ff")
    .attr("stroke-width", 1.4).attr("stroke-linejoin", "round");

  g.append("text").attr("transform", `translate(${W / 2},-15) scale(${SX},1)`)
    .attr("text-anchor", "middle").attr("font-family", FONT).attr("font-size", FS + 0.5)
    .attr("fill", "#000").text(titles[k]);
});
</script>
</body></html>
